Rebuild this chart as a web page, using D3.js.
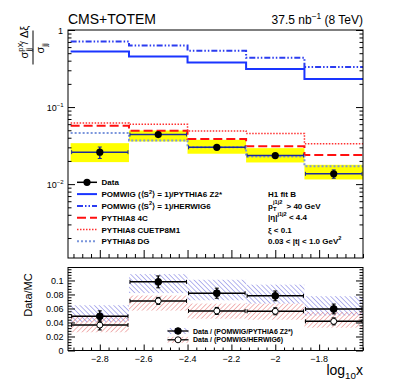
<!DOCTYPE html>
<html>
<head>
<meta charset="utf-8">
<script src="https://cdn.jsdelivr.net/npm/d3@7"></script>
<style>
  body { margin: 0; background: #fff; }
  svg { display: block; }
  text { font-family: "Liberation Sans", Arial, Helvetica, sans-serif; }
</style>
</head>
<body>
<div id="chart"></div>
<script>
// bin edges in log10(x)
var binEdges = [-2.933, -2.667, -2.4, -2.133, -1.867, -1.6];

// upper panel: (sigma_jj^pX / dxi) / sigma_jj
var dataVal   = [0.026, 0.044, 0.030, 0.0235, 0.0136];
var dataErrUp = [0.0043, 0.0022, 0.0016, 0.0015, 0.0017];
var dataErrDn = [0.0045, 0.0022, 0.0016, 0.0015, 0.0017];
var systLo    = [0.0193, 0.0358, 0.0248, 0.0191, 0.0115];
var systHi    = [0.034, 0.0497, 0.0376, 0.0293, 0.0178];

var pomwigPythia6    = [0.527, 0.454, 0.38, 0.312, 0.231];
var pomwigHerwig6    = [0.71, 0.63, 0.538, 0.436, 0.331];
var pythia8_4C       = [0.0572, 0.0492, 0.0384, 0.0311, 0.0238];
var pythia8_CUETP8M1 = [0.062, 0.060, 0.049, 0.0454, 0.0333];
var pythia8_DG       = [0.046, 0.0369, 0.030, 0.0229, 0.0171];

// lower panel: data / MC
var ratioPythia6    = [0.0488, 0.098, 0.0818, 0.078, 0.0593];
var ratioPythia6Err = [0.0078, 0.0085, 0.0072, 0.007, 0.007];
var ratioPythia6Lo  = [0.0406, 0.082, 0.0717, 0.067, 0.050];
var ratioPythia6Hi  = [0.0646, 0.109, 0.101, 0.094, 0.0775];
var ratioHerwig6    = [0.0363, 0.0708, 0.0565, 0.056, 0.0416];
var ratioHerwig6Err = [0.007, 0.005, 0.005, 0.005, 0.005];
var ratioHerwig6Lo  = [0.026, 0.057, 0.0455, 0.044, 0.0326];
var ratioHerwig6Hi  = [0.050, 0.0785, 0.067, 0.067, 0.055];

var xTicks = [-2.8, -2.6, -2.4, -2.2, -2, -1.8];
var ratioTicks = [0, 0.02, 0.04, 0.06, 0.08, 0.1];

// Size
var W = 407, H = 391,
    left = 68, right = 363,
    top1 = 30, bottom1 = 258,
    top2 = 267.5, bottom2 = 350.5;

var x = d3.scaleLinear().domain([-2.945, -1.6]).range([left, right]),
    y = d3.scaleLog().domain([0.0011, 1]).range([bottom1, top1]),
    y2 = d3.scaleLinear().domain([0, 0.1185]).range([bottom2, top2]);

var svg = d3.select("#chart").append("svg")
    .attr("width", W)
    .attr("height", H);

var defs = svg.append("defs");
function hatch(id, color, angle) {
  defs.append("pattern")
      .attr("id", id)
      .attr("patternUnits", "userSpaceOnUse")
      .attr("width", 3.4)
      .attr("height", 3.4)
      .attr("patternTransform", "rotate(" + angle + ")")
    .append("line")
      .attr("x1", 0).attr("y1", 0).attr("x2", 0).attr("y2", 3.4)
      .attr("stroke", color)
      .attr("stroke-width", 0.9);
}
hatch("hatchBlue", "#5a5ad8", -45);
hatch("hatchRed", "#e06060", 45);

// rich text helper: parts = [[text, "" | "sup" | "sub"], ...]
function rich(sel, parts, size) {
  var cur = 0;
  parts.forEach(function(p) {
    var shift = p[1] == "sup" ? -0.45 * size : (p[1] == "sub" ? 0.3 * size : 0);
    sel.append("tspan")
      .attr("dy", shift - cur)
      .attr("font-size", p[1] ? size * 0.7 : size)
      .text(p[0]);
    cur = shift;
  });
  return sel;
}

function stepPoints(vals) {
  var pts = vals.map(function(v, i) { return [binEdges[i], v]; });
  pts.push([binEdges[vals.length], vals[vals.length - 1]]);
  return pts;
}

function minorRange(a, b, step, majors) {
  var out = [];
  for (var v = a; v <= b + 1e-9; v += step) {
    var r = Math.round(v * 1000) / 1000;
    if (majors.every(function(m) { return Math.abs(m - r) > 1e-6; })) out.push(r);
  }
  return out;
}

function tickAxis(g, axisFn, scale, values, size, tx, ty) {
  var a = g.append("g")
      .attr("transform", "translate(" + tx + "," + ty + ")")
      .call(axisFn(scale).tickValues(values).tickSize(-size).tickFormat(""));
  a.select(".domain").remove();
  a.selectAll("line").attr("stroke", "#000").attr("stroke-width", 1);
  return a;
}

//////////////// Upper panel ////////////////
var p1 = svg.append("g");

// yellow systematic bands
p1.selectAll(".syst")
  .data(dataVal)
  .enter().append("rect")
    .attr("class", "syst")
    .attr("x", function(d, i) { return x(binEdges[i]); })
    .attr("width", function(d, i) { return x(binEdges[i + 1]) - x(binEdges[i]); })
    .attr("y", function(d, i) { return y(systHi[i]); })
    .attr("height", function(d, i) { return y(systLo[i]) - y(systHi[i]); })
    .attr("fill", "#ffff00");

var models = [
  {name: "POMWIG", vals: pomwigPythia6, color: "#1a35ff", width: 2, dash: null},
  {name: "HERWIG6", vals: pomwigHerwig6, color: "#2b3cf0", width: 2, dash: "6,2,1.5,2,1.5,2"},
  {name: "4C", vals: pythia8_4C, color: "#ff1010", width: 2, dash: "9,4"},
  {name: "CUETP8M1", vals: pythia8_CUETP8M1, color: "#ff3030", width: 1.5, dash: "1.5,1.5"},
  {name: "DG", vals: pythia8_DG, color: "#7b96dc", width: 2, dash: "2,2"}
];

var step = d3.line()
    .x(function(d) { return x(d[0]); })
    .y(function(d) { return y(d[1]); })
    .curve(d3.curveStepAfter);

p1.selectAll(".model")
  .data(models)
  .enter().append("path")
    .attr("class", "model")
    .attr("d", function(d) { return step(stepPoints(d.vals)); })
    .attr("fill", "none")
    .attr("stroke", function(d) { return d.color; })
    .attr("stroke-width", function(d) { return d.width; })
    .attr("stroke-dasharray", function(d) { return d.dash; });

// data points
var navy = "#1c2a9c";
var binMid = function(d, i) { return x((binEdges[i] + binEdges[i + 1]) / 2); };
var pts = p1.selectAll(".pt")
  .data(dataVal)
  .enter().append("g")
    .attr("class", "pt");
pts.append("line")
    .attr("x1", function(d, i) { return x(binEdges[i]) + 1; })
    .attr("x2", function(d, i) { return x(binEdges[i + 1]) - 1; })
    .attr("y1", function(d) { return y(d); })
    .attr("y2", function(d) { return y(d); })
    .attr("stroke", navy).attr("stroke-width", 1.5);
[0, 1].forEach(function(k) {
  pts.append("line")
      .attr("x1", function(d, i) { return x(binEdges[i + k]) + (k ? -1 : 1); })
      .attr("x2", function(d, i) { return x(binEdges[i + k]) + (k ? -1 : 1); })
      .attr("y1", function(d) { return y(d) - 2; })
      .attr("y2", function(d) { return y(d) + 2; })
      .attr("stroke", navy).attr("stroke-width", 1);
});
pts.append("line")
    .attr("x1", binMid).attr("x2", binMid)
    .attr("y1", function(d, i) { return y(d + dataErrUp[i]); })
    .attr("y2", function(d, i) { return y(d - dataErrDn[i]); })
    .attr("stroke", navy).attr("stroke-width", 1.5);
[1, -1].forEach(function(s) {
  pts.append("line")
      .attr("x1", function(d, i) { return binMid(d, i) - 2; })
      .attr("x2", function(d, i) { return binMid(d, i) + 2; })
      .attr("y1", function(d, i) { return y(s > 0 ? d + dataErrUp[i] : d - dataErrDn[i]); })
      .attr("y2", function(d, i) { return y(s > 0 ? d + dataErrUp[i] : d - dataErrDn[i]); })
      .attr("stroke", navy).attr("stroke-width", 1);
});
pts.append("circle")
    .attr("cx", binMid)
    .attr("cy", function(d) { return y(d); })
    .attr("r", 3.6)
    .attr("fill", "#000");

// frame + axes
p1.append("rect")
    .attr("x", left).attr("y", top1)
    .attr("width", right - left).attr("height", bottom1 - top1)
    .attr("fill", "none").attr("stroke", "#000").attr("stroke-width", 1);

var logMajor = [0.01, 0.1, 1],
    logMinor = [];
[-3, -2, -1].forEach(function(k) {
  for (var m = 2; m <= 9; m++) {
    var v = m * Math.pow(10, k);
    if (v >= 0.0011) logMinor.push(v);
  }
});
tickAxis(p1, d3.axisLeft, y, logMajor, 7, left, 0);
tickAxis(p1, d3.axisLeft, y, logMinor, 3.5, left, 0);
tickAxis(p1, d3.axisRight, y, logMajor, 7, right, 0);
tickAxis(p1, d3.axisRight, y, logMinor, 3.5, right, 0);
var xMinor = minorRange(-2.92, -1.6, 0.04, xTicks);
tickAxis(p1, d3.axisBottom, x, xTicks, 8, 0, bottom1);
tickAxis(p1, d3.axisBottom, x, xMinor, 4, 0, bottom1);

// log tick labels
p1.append("text")
    .attr("x", 63).attr("y", y(1) + 3.5)
    .attr("text-anchor", "end").attr("font-size", 9)
    .text("1");
[0.1, 0.01].forEach(function(v) {
  var t = p1.append("text")
      .attr("x", 63.5).attr("y", y(v) + 3.5)
      .attr("text-anchor", "end")
      .attr("font-size", 9);
  t.append("tspan").text("10");
  t.append("tspan")
      .attr("font-size", 6)
      .attr("dy", -4)
      .text("\u2212" + Math.round(-Math.log10(v)));
});

// y axis label (fraction)
var yl = svg.append("g")
    .attr("transform", "translate(33,47.5) rotate(-90)");
yl.append("line")
    .attr("x1", -17).attr("x2", 17)
    .attr("y1", 0).attr("y2", 0)
    .attr("stroke", "#000").attr("stroke-width", 1);
var num = yl.append("text")
    .attr("x", -11).attr("y", -5)
    .attr("font-size", 11);
num.append("tspan").text("\u03c3");
num.append("tspan").attr("font-size", 7.5).attr("dy", -5).text("pX");
num.append("tspan").attr("font-size", 7.5).attr("dx", -9).attr("dy", 8).text("jj");
num.append("tspan").attr("dx", 4).attr("dy", -3).text("/ \u0394\u03be");
var den = yl.append("text")
    .attr("x", -6).attr("y", 11)
    .attr("font-size", 11);
den.append("tspan").text("\u03c3");
den.append("tspan").attr("font-size", 7.5).attr("dy", 3).text("jj");

// header texts
svg.append("text")
    .attr("x", left).attr("y", 24)
    .attr("font-size", 14)
    .text("CMS+TOTEM");
var lumi = svg.append("text")
    .attr("x", right).attr("y", 24)
    .attr("text-anchor", "end")
    .attr("font-size", 12);
rich(lumi, [["37.5 nb", ""], ["\u22121", "sup"], [" (8 TeV)", ""]], 12);

// upper legend
var legRows = [
  {label: [["Data", ""]], kind: "data"},
  {label: [["POMWIG (\u27e8S", ""], ["2", "sup"], ["\u27e9 = 1)/PYTHIA6 Z2*", ""]], model: models[0]},
  {label: [["POMWIG (\u27e8S", ""], ["2", "sup"], ["\u27e9 = 1)/HERWIG6", ""]], model: models[1]},
  {label: [["PYTHIA8 4C", ""]], model: models[2]},
  {label: [["PYTHIA8 CUETP8M1", ""]], model: models[3]},
  {label: [["PYTHIA8 DG", ""]], model: models[4]}
];
var legend = svg.append("g")
    .attr("font-weight", "bold");
legRows.forEach(function(r, i) {
  var yy = 182.3 + i * 11.8;
  if (r.kind == "data") {
    legend.append("line")
        .attr("x1", 77).attr("x2", 97).attr("y1", yy).attr("y2", yy)
        .attr("stroke", "#000").attr("stroke-width", 1.5);
    legend.append("circle")
        .attr("cx", 87).attr("cy", yy).attr("r", 3.6).attr("fill", "#000");
  } else {
    legend.append("line")
        .attr("x1", 77).attr("x2", 97).attr("y1", yy).attr("y2", yy)
        .attr("stroke", r.model.color)
        .attr("stroke-width", r.model.width)
        .attr("stroke-dasharray", r.model.dash);
  }
  var t = legend.append("text")
      .attr("x", 101.5).attr("y", yy + 3);
  rich(t, r.label, 8);
});

// cuts text
var cuts = svg.append("g").attr("font-weight", "bold").attr("font-size", 8);
cuts.append("text").attr("x", 268).attr("y", 196.5).text("H1 fit B");
var pt = cuts.append("text").attr("x", 268).attr("y", 208.5);
pt.append("tspan").text("p");
pt.append("tspan").attr("x", 273).attr("dy", 2.5).attr("font-size", 5.6).text("T");
pt.append("tspan").attr("x", 273).attr("dy", -7.5).attr("font-size", 5.6).text("j1j2");
pt.append("tspan").attr("x", 286.5).attr("dy", 5).text("> 40 GeV");
var eta = cuts.append("text").attr("x", 268).attr("y", 220);
rich(eta, [["|\u03b7|", ""], ["j1j2", "sup"], [" < 4.4", ""]], 8);
cuts.append("text").attr("x", 268).attr("y", 232.5).text("\u03be < 0.1");
var tt = cuts.append("text").attr("x", 268).attr("y", 244);
rich(tt, [["0.03 < |t| < 1.0 GeV", ""], ["2", "sup"]], 8);

//////////////// Lower panel ////////////////
var p2 = svg.append("g");

function bands(cls, lo, hi, fill) {
  p2.selectAll("." + cls)
    .data(lo)
    .enter().append("rect")
      .attr("class", cls)
      .attr("x", function(d, i) { return x(binEdges[i]); })
      .attr("width", function(d, i) { return x(binEdges[i + 1]) - x(binEdges[i]); })
      .attr("y", function(d, i) { return y2(hi[i]); })
      .attr("height", function(d, i) { return y2(lo[i]) - y2(hi[i]); })
      .attr("fill", fill);
}
bands("bandBlue", ratioPythia6Lo, ratioPythia6Hi, "url(#hatchBlue)");
bands("bandRed", ratioHerwig6Lo, ratioHerwig6Hi, "url(#hatchRed)");

function ratioPoints(cls, vals, errs, open) {
  var g = p2.selectAll("." + cls)
    .data(vals)
    .enter().append("g")
      .attr("class", cls);
  g.append("line")
      .attr("x1", function(d, i) { return x(binEdges[i]) + 1; })
      .attr("x2", function(d, i) { return x(binEdges[i + 1]) - 1; })
      .attr("y1", function(d) { return y2(d); })
      .attr("y2", function(d) { return y2(d); })
      .attr("stroke", "#000").attr("stroke-width", 1.5);
  // end caps
  [0, 1].forEach(function(k) {
    g.append("line")
        .attr("x1", function(d, i) { return x(binEdges[i + k]) + (k ? -1 : 1); })
        .attr("x2", function(d, i) { return x(binEdges[i + k]) + (k ? -1 : 1); })
        .attr("y1", function(d) { return y2(d) - 2; })
        .attr("y2", function(d) { return y2(d) + 2; })
        .attr("stroke", "#000").attr("stroke-width", 1);
  });
  g.append("line")
      .attr("x1", binMid).attr("x2", binMid)
      .attr("y1", function(d, i) { return y2(d + errs[i]); })
      .attr("y2", function(d, i) { return y2(d - errs[i]); })
      .attr("stroke", "#000").attr("stroke-width", 1.5);
  [1, -1].forEach(function(s) {
    g.append("line")
        .attr("x1", function(d, i) { return binMid(d, i) - 2; })
        .attr("x2", function(d, i) { return binMid(d, i) + 2; })
        .attr("y1", function(d, i) { return y2(d + s * errs[i]); })
        .attr("y2", function(d, i) { return y2(d + s * errs[i]); })
        .attr("stroke", "#000").attr("stroke-width", 1);
  });
  g.append("circle")
      .attr("cx", binMid)
      .attr("cy", function(d) { return y2(d); })
      .attr("r", open ? 3 : 3.4)
      .attr("fill", open ? "#fff" : "#000")
      .attr("stroke", "#000").attr("stroke-width", 1);
}
ratioPoints("rHerwig", ratioHerwig6, ratioHerwig6Err, true);
ratioPoints("rPythia", ratioPythia6, ratioPythia6Err, false);

p2.append("rect")
    .attr("x", left).attr("y", top2)
    .attr("width", right - left).attr("height", bottom2 - top2)
    .attr("fill", "none").attr("stroke", "#000").attr("stroke-width", 1);

var ratioMinor = minorRange(0.004, 0.116, 0.004, ratioTicks);
tickAxis(p2, d3.axisLeft, y2, ratioTicks, 7, left, 0);
tickAxis(p2, d3.axisLeft, y2, ratioMinor, 3.5, left, 0);
tickAxis(p2, d3.axisRight, y2, ratioTicks, 7, right, 0);
tickAxis(p2, d3.axisRight, y2, ratioMinor, 3.5, right, 0);
tickAxis(p2, d3.axisBottom, x, xTicks, 6, 0, bottom2);
tickAxis(p2, d3.axisBottom, x, xMinor, 3, 0, bottom2);

p2.selectAll(".ylab")
  .data(ratioTicks)
  .enter().append("text")
    .attr("class", "ylab")
    .attr("x", 63.5)
    .attr("y", function(d) { return y2(d) + 3.3; })
    .attr("text-anchor", "end")
    .attr("font-size", 9)
    .text(function(d) { return d == 0 ? "0" : d3.format("")(d); });

p2.selectAll(".xlab")
  .data(xTicks)
  .enter().append("text")
    .attr("class", "xlab")
    .attr("x", function(d) { return x(d); })
    .attr("y", 362)
    .attr("text-anchor", "middle")
    .attr("font-size", 9)
    .text(function(d) { return d3.format("")(d); });

svg.append("text")
    .attr("transform", "translate(32,295) rotate(-90)")
    .attr("text-anchor", "middle")
    .attr("font-size", 11)
    .text("Data/MC");

var xl = svg.append("text")
    .attr("x", right).attr("y", 375)
    .attr("text-anchor", "end")
    .attr("font-size", 14);
rich(xl, [["log", ""], ["10", "sub"], ["x", ""]], 14);

// lower legend
var leg2 = [
  {label: "Data / (POMWIG/PYTHIA6 Z2*)", fill: "url(#hatchBlue)", open: false},
  {label: "Data / (POMWIG/HERWIG6)", fill: "url(#hatchRed)", open: true}
];
leg2.forEach(function(r, i) {
  var yy = 331 + i * 8.8;
  svg.append("rect")
      .attr("x", 167.5).attr("y", yy - 3)
      .attr("width", 21).attr("height", 6)
      .attr("fill", r.fill);
  svg.append("line")
      .attr("x1", 167.5).attr("x2", 188.5).attr("y1", yy).attr("y2", yy)
      .attr("stroke", "#000").attr("stroke-width", 1.3);
  svg.append("circle")
      .attr("cx", 178).attr("cy", yy)
      .attr("r", r.open ? 3 : 3.3)
      .attr("fill", r.open ? "#fff" : "#000")
      .attr("stroke", "#000").attr("stroke-width", 1);
  svg.append("text")
      .attr("x", 193).attr("y", yy + 2.6)
      .attr("font-size", 7).attr("font-weight", "bold")
      .text(r.label);
});
</script>
</body>
</html>
